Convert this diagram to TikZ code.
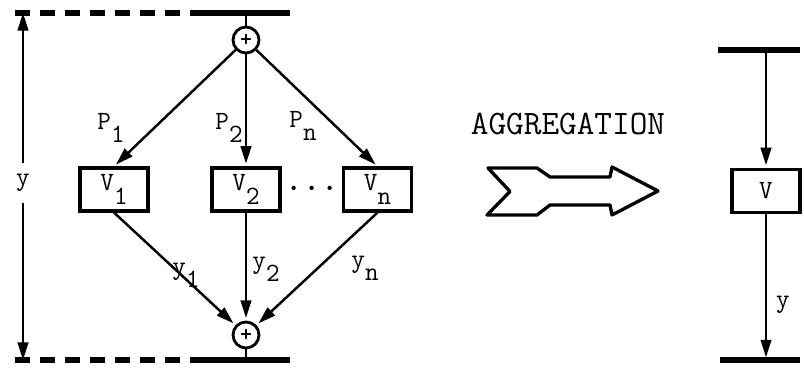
\documentclass[tikz,border=0pt]{standalone}
\usepackage{graphicx}
\usetikzlibrary{arrows.meta,positioning}
\newcommand\lbsub[2]{#1\raisebox{-0.5em}{#2}}

\begin{document}
\begin{tikzpicture}[
  font=\ttfamily\fontsize{15}{17}\selectfont,
  bar/.style={line width=3pt},
  flow/.style={line width=1.4pt,shorten >=1.5pt,-{Triangle[length=10pt,width=6pt]}},
  block/.style={draw,line width=1.8pt,minimum width=1.36cm,minimum height=0.86cm,inner sep=0pt},
  sum/.style={draw,circle,line width=1.6pt,minimum size=0.52cm,inner sep=0pt}]
  \useasboundingbox (0,0) rectangle (16.08,7.36);
  % disaggregated system
  \draw[bar,dash pattern=on 0.3cm off 0.2cm] (0.3,7.1) -- (4.0,7.1);
  \draw[bar] (4.0,7.1) -- (5.8,7.1);
  \draw[bar,dash pattern=on 0.3cm off 0.2cm] (0.3,0.16) -- (4.0,0.16);
  \draw[bar] (4.0,0.16) -- (5.8,0.16);
  \coordinate (topbar) at (4.92,7.1);
  \coordinate (botbar) at (4.92,0.16);
  \node[sum,font=\ttfamily\fontsize{13}{15}\selectfont] (topsum) at (4.92,6.56) {\textbf{+}};
  \node[sum,font=\ttfamily\fontsize{13}{15}\selectfont] (botsum) at (4.92,0.66) {\textbf{+}};
  \draw[line width=1.2pt] (topbar) -- (topsum);
  \draw[line width=1.2pt] (botsum) -- (botbar);
  \node[block] (v1) at (2.28,3.57) {\lbsub{V}{1}};
  \node[block] (v2) at (4.92,3.57) {\lbsub{V}{2}};
  \node[block] (vn) at (7.55,3.57) {\lbsub{V}{n}};
  \node (dots) at (6.24,3.57) {\scalebox{1.6}{$\cdots$}};
  \draw[flow] (topsum) -- (v1.north);
  \draw[flow] (topsum) -- (v2.north);
  \draw[flow] (topsum) -- (vn.north);
  \draw[flow] (v1.south) -- (botsum);
  \draw[flow] (v2.south) -- (botsum);
  \draw[flow] (vn.south) -- (botsum);
  \node at (2.22,4.8) {\lbsub{P}{1}};
  \node at (4.58,4.8) {\lbsub{P}{2}};
  \node at (6.06,4.84) {\lbsub{P}{n}};
  \node at (3.72,1.86) {\lbsub{y}{1}};
  \node at (5.32,1.98) {\lbsub{y}{2}};
  \node at (7.3,2.0) {\lbsub{y}{n}};
  % total flow
  \coordinate (dimtop) at (0.46,7.1);
  \coordinate (dimbot) at (0.46,0.16);
  \node[inner sep=6pt] (ylab) at (0.46,3.7) {y};
  \draw[line width=1.4pt,-{Triangle[length=10pt,width=6pt]}] (ylab) -- (dimtop);
  \draw[line width=1.4pt,-{Triangle[length=10pt,width=6pt]}] (ylab) -- (dimbot);
  % aggregation arrow
  \node[font=\ttfamily\fontsize{19.5}{22}\selectfont] (agg) at (11.36,4.88) {AGGREGATION};
  \draw[line width=1.9pt,line join=round] (9.76,4.0) -- (10.74,4.0) -- (11.0,3.82)
     -- (12.2,3.82) -- (12.24,4.02) -- (13.16,3.54) -- (12.24,3.06) -- (12.2,3.26)
     -- (11.0,3.26) -- (10.74,3.06) -- (9.74,3.06) -- (10.2,3.53) -- cycle;
  % aggregated system
  \draw[bar] (14.36,6.36) -- (16.0,6.36);
  \draw[bar] (14.4,0.16) -- (16.0,0.16);
  \coordinate (rtop) at (15.32,6.36);
  \coordinate (rbot) at (15.32,0.16);
  \node[block] (v) at (15.32,3.54) {V};
  \draw[flow] (rtop) -- (v);
  \draw[flow] (v) -- (rbot);
  \node at (15.66,1.26) {y};
\end{tikzpicture}
\end{document}
